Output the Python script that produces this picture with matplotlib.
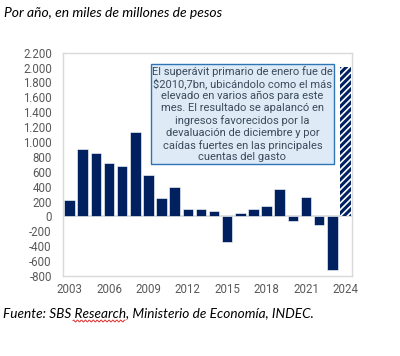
import matplotlib
matplotlib.use("Agg")
import matplotlib.pyplot as plt
import matplotlib.ticker as mticker
import numpy as np

# resultado primario anual, miles de millones de pesos
years = list(range(2003, 2025))
values = [220, 905, 850, 720, 675, 1140, 560, 245, 400, 95, 95, 67, -345,
          40, 105, 135, 365, -60, 260, -110, -715, 2010.7]
xtick_years = [2003, 2006, 2009, 2012, 2015, 2018, 2021, 2024]
ytick_vals = list(range(-800, 2201, 200))

title = "Por año, en miles de millones de pesos"
source = "Fuente: SBS Research, Ministerio de Economía, INDEC."
note = ("El superávit primario de enero fue de\n"
        "$2010,7bn, ubicándolo como el más\n"
        "elevado en varios años para este\n"
        "mes. El resultado se apalancó en\n"
        "ingresos favorecidos por la\n"
        "devaluación de diciembre y por\n"
        "caídas fuertes en las principales\n"
        "cuentas del gasto")

navy = "#002060"
grey = "#D9D9D9"
label_col = "#595959"

plt.rcParams["font.family"] = ["Roboto", "DejaVu Sans"]
plt.rcParams["hatch.linewidth"] = 2.2

fig = plt.figure(figsize=(4.0, 3.56), dpi=100)
ax = fig.add_axes([0.1575, 0.2247, 0.7225, 0.6273])

ax.bar(years[:-1], values[:-1], width=0.8, color=navy, edgecolor="white", linewidth=0.4, zorder=3)
ax.bar(years[-1:], values[-1:], width=0.8, color="white", edgecolor=navy, hatch="/////",
       linewidth=0, zorder=3)

ax.axhline(0, color=grey, linewidth=1.2, zorder=2)
ax.set_xlim(2002.5, 2024.5)
ax.set_ylim(-800, 2200)
ax.set_xticks(xtick_years)
ax.set_yticks(ytick_vals)
ax.yaxis.set_major_formatter(mticker.FuncFormatter(lambda v, p: f"{int(v):,}".replace(",", ".")))
ax.tick_params(length=0, labelsize=8.3, colors=label_col)
ax.tick_params(axis="y", pad=8)
ax.tick_params(axis="x", pad=5)
for s in ax.spines.values():
    s.set_color(grey)
    s.set_linewidth(1.0)

ax.text(0.621, 0.7255, note, transform=ax.transAxes, ha="center", va="center",
        fontsize=8.0, color="#3B4A5A", linespacing=1.22, zorder=5,
        bbox=dict(boxstyle="square,pad=0.12", facecolor="#DEEBF7", edgecolor="#2E75B6", linewidth=1.0))

fig.text(0.01, 0.963, title, fontsize=10, style="italic", family=["Lato", "DejaVu Sans"],
         ha="left", va="center", color="black")
fig.text(0.008, 0.121, source, fontsize=9.8, style="italic", family=["Lato", "DejaVu Sans"],
         ha="left", va="center", color="black")

# subrayado ondulado del corrector bajo "Research"
wx = np.linspace(73, 125, 60)
wy = 321 + 1.0 * np.sin(wx * 1.6)
fig.add_artist(plt.Line2D(wx / 400, 1 - wy / 356, color="#E03030", linewidth=0.7))

fig.savefig("out.png", dpi=100)
